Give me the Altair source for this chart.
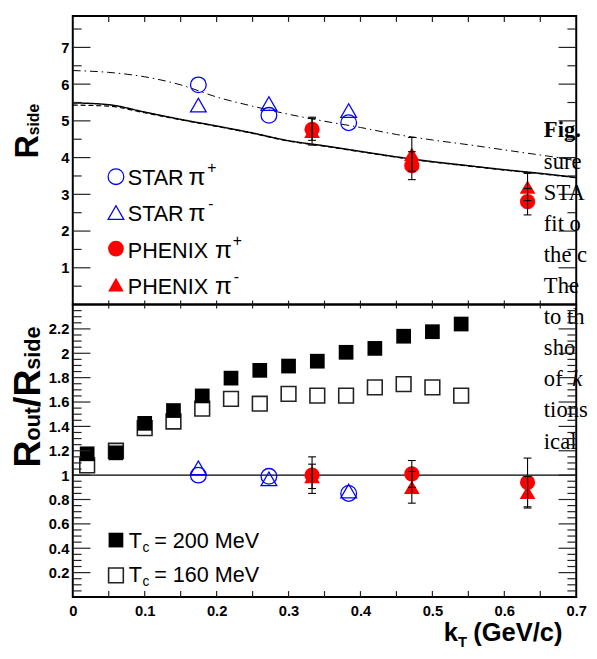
import altair as alt
import pandas as pd

# ---------------- data ----------------
star_kt = [0.1746, 0.2727, 0.3836]
phenix_kt = [0.3327, 0.4714, 0.6323]

star_pip_rside = [5.98, 5.15, 4.95]
star_pim_rside = [5.43, 5.47, 5.28]
phenix_pip_rside = [4.77, 3.78, 2.80]
phenix_pip_rside_err = [0.30, 0.38, 0.36]
phenix_pim_rside = [4.72, 4.09, 3.20]
phenix_pim_rside_err = [0.38, 0.46, 0.37]

star_pip_ratio = [1.00, 0.99, 0.85]
star_pim_ratio = [1.06, 0.97, 0.87]
phenix_pip_ratio = [1.00, 1.01, 0.94]
phenix_pip_ratio_err = [0.15, 0.11, 0.20]
phenix_pim_ratio = [0.99, 0.90, 0.86]
phenix_pim_ratio_err = [0.10, 0.13, 0.13]

model_kt = [0.02, 0.06, 0.10, 0.14, 0.18, 0.22, 0.26, 0.30, 0.34, 0.38, 0.42, 0.46, 0.50, 0.54]
tc200_ratio = [1.175, 1.183, 1.425, 1.53, 1.65, 1.796, 1.86, 1.895, 1.935, 2.008, 2.04, 2.14, 2.177, 2.24]
tc160_ratio = [1.08, 1.20, 1.385, 1.44, 1.546, 1.626, 1.586, 1.667, 1.653, 1.653, 1.72, 1.747, 1.72, 1.653]

curve_kt = [0.0, 0.05, 0.10, 0.15, 0.20, 0.25, 0.30, 0.35, 0.40, 0.45, 0.50, 0.55, 0.60, 0.65, 0.70]
curve_solid = [5.49, 5.44, 5.24, 5.04, 4.86, 4.67, 4.46, 4.32, 4.17, 4.02, 3.89, 3.78, 3.67, 3.57, 3.46]
curve_dashed = [5.43, 5.40, 5.22, 5.03, 4.85, 4.66, 4.45, 4.31, 4.16, 4.01, 3.88, 3.77, 3.66, 3.56, 3.45]
curve_dashdot = [6.37, 6.32, 6.20, 5.98, 5.65, 5.40, 5.18, 4.99, 4.82, 4.63, 4.48, 4.35, 4.21, 4.07, 3.93]

x_labels = [0, 0.1, 0.2, 0.3, 0.4, 0.5, 0.6, 0.7]
x_ticks = [0.05, 0.1, 0.15, 0.2, 0.25, 0.3, 0.35, 0.4, 0.45, 0.5, 0.55, 0.6, 0.65]
top_major = [1, 2, 3, 4, 5, 6, 7]
top_minor = [0.5, 1.5, 2.5, 3.5, 4.5, 5.5, 6.5, 7.5]
bot_major = [0.2, 0.4, 0.6, 0.8, 1, 1.2, 1.4, 1.6, 1.8, 2, 2.2]
bot_minor = [round(0.05 * i, 2) for i in range(1, 48) if i % 4 != 0]

legend_top = ["STAR", "STAR", "PHENIX", "PHENIX"]
legend_top_sup = ["+", "-", "+", "-"]
legend_bot = ["= 200 MeV", "= 160 MeV"]
caption_lines = ["sure", "STA", "fit o", "the c", "The", "to th", "sho", "of", "tions", "ical"]

# ---------------- styling ----------------
W, H1, H2 = 513, 294, 298
FONT = "Liberation Sans"
SERIF = "Liberation Serif"
BLUE = "#0000ff"
RED = "#ff0000"
TICK = "#222222"

xs = alt.Scale(domain=[0, 0.7], nice=False, zero=False)
ys1 = alt.Scale(domain=[0, 7.855], nice=False, zero=False)
ys2 = alt.Scale(domain=[0, 2.4], nice=False, zero=False)

YAX1 = alt.Axis(values=top_major, labelPadding=4, title=None, format="~g")
YAX2 = alt.Axis(values=bot_major, labelPadding=4, title=None, format="~g")
XAX2 = alt.Axis(values=x_labels, labelPadding=7, title=None, format="~g", labelFlush=False)

one = alt.Data(values=[{}])


def txt(s, x, y, size, weight="normal", font=FONT, angle=0, style=None):
    kw = dict(text=s, fontSize=size, fontWeight=weight, font=font, align="left",
              baseline="alphabetic", color="black")
    if angle:
        kw["angle"] = angle
    if style:
        kw["fontStyle"] = style
    return alt.Chart(one).mark_text(**kw).encode(x=alt.value(x), y=alt.value(y))


def sym(x, y, shape, filled, color, size=256, sw=1.3):
    return alt.Chart(one).mark_point(shape=shape, filled=filled, color=color, size=size,
                                     strokeWidth=sw, opacity=1).encode(
        x=alt.value(x), y=alt.value(y))


def pts(df, field, ys, yax, xax, shape, filled, color, size=256, sw=1.3):
    return alt.Chart(df).mark_point(shape=shape, filled=filled, color=color, size=size,
                                    strokeWidth=sw, opacity=1).encode(
        x=alt.X("kt:Q", scale=xs, axis=xax),
        y=alt.Y(f"{field}:Q", scale=ys, axis=yax))


def errbars(kt, vals, errs, ys, yax, xax):
    df = pd.DataFrame({"kt": kt, "lo": [v - e for v, e in zip(vals, errs)],
                       "hi": [v + e for v, e in zip(vals, errs)]})
    bar = alt.Chart(df).mark_rule(color="black", strokeWidth=1.1).encode(
        x=alt.X("kt:Q", scale=xs, axis=xax), y=alt.Y("lo:Q", scale=ys, axis=yax), y2="hi:Q")
    caps = []
    for f in ["lo", "hi"]:
        caps.append(alt.Chart(df).mark_rule(color="black", strokeWidth=1.1, xOffset=-4, x2Offset=4).encode(
            x=alt.X("kt:Q", scale=xs, axis=xax), x2="kt:Q",
            y=alt.Y(f"{f}:Q", scale=ys, axis=yax)))
    return [bar] + caps


def yticks(values, length, ys, yax):
    df = pd.DataFrame({"v": values})
    base = alt.Chart(df).mark_rule(color=TICK, strokeWidth=1.2)
    return [
        base.encode(y=alt.Y("v:Q", scale=ys, axis=yax), x=alt.value(0), x2=alt.value(length)),
        base.encode(y=alt.Y("v:Q", scale=ys, axis=yax), x=alt.value(W - length), x2=alt.value(W)),
    ]


def xticks(y0, y1, xax):
    df = pd.DataFrame({"v": x_ticks})
    return alt.Chart(df).mark_rule(color=TICK, strokeWidth=1.2).encode(
        x=alt.X("v:Q", scale=xs, axis=xax), y=alt.value(y0), y2=alt.value(y1))


# ---------------- top panel: R_side ----------------
curve_layers = []
for vals, dash, sw in [(curve_solid, [1, 0], 1.5), (curve_dashed, [5, 3], 1.2), (curve_dashdot, [8, 4, 1.5, 4], 1.0)]:
    cdf = pd.DataFrame({"kt": curve_kt, "r": vals})
    curve_layers.append(alt.Chart(cdf).mark_line(color="black", strokeWidth=sw, strokeDash=dash,
                                                 interpolate="monotone").encode(
        x=alt.X("kt:Q", scale=xs, axis=None),
        y=alt.Y("r:Q", scale=ys1, axis=YAX1)))

star_df = pd.DataFrame({"kt": star_kt, "pip": star_pip_rside, "pim": star_pim_rside})
phx_df = pd.DataFrame({"kt": phenix_kt, "pip": phenix_pip_rside, "pim": phenix_pim_rside})

# white pin that fixes the left extent of the drawing
top_layers = [alt.Chart(one).mark_rule(color="white", strokeWidth=0.5).encode(
    x=alt.value(-64), x2=alt.value(-63), y=alt.value(2))]
top_layers += curve_layers + [
    pts(star_df, "pip", ys1, YAX1, None, "circle", False, BLUE),
    pts(star_df, "pim", ys1, YAX1, None, "triangle-up", False, BLUE),
    pts(phx_df, "pip", ys1, YAX1, None, "circle", True, RED, size=240),
    pts(phx_df, "pim", ys1, YAX1, None, "triangle-up", True, RED, size=256),
]
top_layers += errbars(phenix_kt, phenix_pip_rside, phenix_pip_rside_err, ys1, YAX1, None)
top_layers += errbars(phenix_kt, phenix_pim_rside, phenix_pim_rside_err, ys1, YAX1, None)
top_layers += yticks(top_major, 18, ys1, YAX1) + yticks(top_minor, 9, ys1, YAX1)
top_layers += [xticks(0, 6, None), xticks(H1 - 4, H1, None)]

# legend (top)
leg_sym_y = [163.7, 200.3, 237.0, 273.7]
leg_txt_y = [172.0, 208.7, 247.0, 283.7]
leg_shapes = [("circle", False, BLUE), ("triangle-up", False, BLUE), ("circle", True, RED), ("triangle-up", True, RED)]
pi_x = [118, 118, 145, 145]
sup_x = [137, 138, 163, 164]
for i in range(4):
    shp, fl, col = leg_shapes[i]
    top_layers.append(sym(44, leg_sym_y[i], shp, fl, col))
    top_layers.append(txt(legend_top[i], 56, leg_txt_y[i], 22))
    top_layers.append(txt("π", pi_x[i], leg_txt_y[i], 25))
    top_layers.append(txt(legend_top_sup[i], sup_x[i], leg_txt_y[i] - 12.5, 16))

# y title R_side
top_layers.append(txt("R", -35.3, 145.3, 33, weight="bold", angle=270))
top_layers.append(txt("side", -34.5, 145.3 - 0.722 * 33, 16, weight="bold", angle=270))

# caption text visible at the right of the figure
CAP_X, CAP_Y0, CAP_DY, CAP_FS = 480, 123.7, 31.7, 23
top_layers.append(txt("Fig.", CAP_X, CAP_Y0, CAP_FS, weight="bold", font=SERIF))
for i, line in enumerate(caption_lines):
    top_layers.append(txt(line, CAP_X, CAP_Y0 + CAP_DY * (i + 1), CAP_FS, font=SERIF))
top_layers.append(txt("k", 509, CAP_Y0 + CAP_DY * 8, CAP_FS, font=SERIF, style="italic"))

top = alt.layer(*top_layers).properties(width=W, height=H1)

# ---------------- bottom panel: R_out / R_side ----------------
one_df = pd.DataFrame({"v": [1.0]})
model_df = pd.DataFrame({"kt": model_kt, "t200": tc200_ratio, "t160": tc160_ratio})
star_r = pd.DataFrame({"kt": star_kt, "pip": star_pip_ratio, "pim": star_pim_ratio})
phx_r = pd.DataFrame({"kt": phenix_kt, "pip": phenix_pip_ratio, "pim": phenix_pim_ratio})

bot_layers = [
    pts(model_df, "t160", ys2, YAX2, XAX2, "square", False, "#222222", size=225, sw=1.6),
    pts(model_df, "t200", ys2, YAX2, XAX2, "square", True, "black", size=225),
    alt.Chart(one_df).mark_rule(color="black", strokeWidth=1.2).encode(
        y=alt.Y("v:Q", scale=ys2, axis=YAX2), x=alt.value(0), x2=alt.value(W)),
    pts(star_r, "pip", ys2, YAX2, XAX2, "circle", False, BLUE),
    pts(star_r, "pim", ys2, YAX2, XAX2, "triangle-up", False, BLUE),
    pts(phx_r, "pip", ys2, YAX2, XAX2, "circle", True, RED, size=240),
    pts(phx_r, "pim", ys2, YAX2, XAX2, "triangle-up", True, RED, size=256),
]
bot_layers += errbars(phenix_kt, phenix_pip_ratio, phenix_pip_ratio_err, ys2, YAX2, XAX2)
bot_layers += errbars(phenix_kt, phenix_pim_ratio, phenix_pim_ratio_err, ys2, YAX2, XAX2)
bot_layers += yticks(bot_major, 18, ys2, YAX2) + yticks(bot_minor, 9, ys2, YAX2)
bot_layers += [xticks(0, 4, XAX2), xticks(H2 - 6, H2, XAX2)]

# legend (bottom)
bot_layers.append(sym(44, 240, "square", True, "black", size=225))
bot_layers.append(sym(44, 276, "square", False, "#222222", size=225, sw=1.6))
for yb, lab in zip([248, 283], legend_bot):
    bot_layers.append(txt("T", 57, yb, 22))
    bot_layers.append(txt("c", 71, yb + 4, 14))
    bot_layers.append(txt(lab, 83, yb, 22))

# y title R_out/R_side
pos = 166.0
widths = {"R": 0.722, "out": 1.555, "/": 0.278, "side": 2.001}
for s, size in [("R", 38), ("out", 22), ("/", 38), ("R", 38), ("side", 22)]:
    bot_layers.append(txt(s, -33.7, pos, size, weight="bold", angle=270))
    pos -= widths[s] * size

# x title k_T (GeV/c)
bot_layers.append(txt("k", 378, 343, 26, weight="bold"))
bot_layers.append(txt("T", 392.5, 349, 15, weight="bold"))
bot_layers.append(txt("(GeV/c)", 408, 343, 26, weight="bold"))

bottom = alt.layer(*bot_layers).properties(width=W, height=H2)

chart = alt.vconcat(top, bottom, spacing=0, bounds="flush").properties(
    padding={"left": 0, "top": 0, "right": 0, "bottom": 0},
).configure_view(
    stroke="black", strokeWidth=2
).configure_axis(
    labelFont=FONT, labelFontWeight="bold", labelFontSize=15, labelColor="black",
    grid=False, domain=False, ticks=False, tickSize=0
)

chart.save("out.html", embed_options={"renderer": "svg", "actions": False})
